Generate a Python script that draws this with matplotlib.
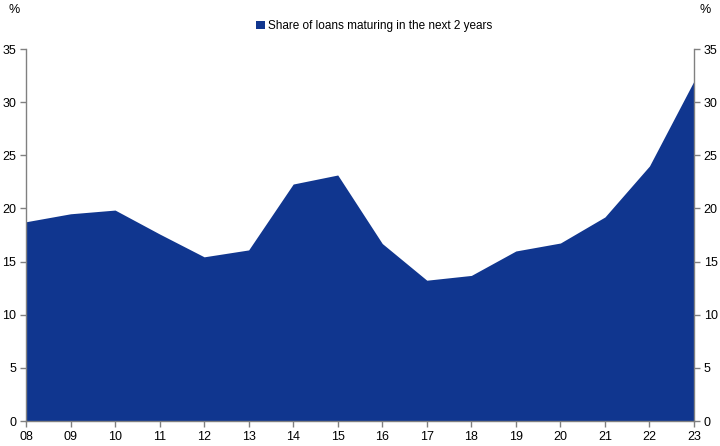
import matplotlib
matplotlib.use('Agg')
import matplotlib.pyplot as plt
from matplotlib.patches import Patch

plt.rcParams['font.family'] = ['Liberation Sans', 'DejaVu Sans']

years = ['08', '09', '10', '11', '12', '13', '14', '15',
         '16', '17', '18', '19', '20', '21', '22', '23']
share = [18.75, 19.5, 19.85, 17.6, 15.45, 16.1, 22.3, 23.15,
         16.7, 13.25, 13.7, 16.0, 16.75, 19.2, 24.0, 32.0]
label = 'Share of loans maturing in the next 2 years'
yticks = [0, 5, 10, 15, 20, 25, 30, 35]

blue = '#10368F'
grey = '#808080'

fig = plt.figure(figsize=(7.2, 4.46), dpi=100)
ax = fig.add_axes([0.0361, 0.056, 0.9278, 0.834])

x = list(range(len(years)))
ax.fill_between(x, share, 0, color=blue, lw=0)

ax.set_xlim(0, len(years) - 1)
ax.set_ylim(0, 35)
ax.set_xticks(x)
ax.set_xticklabels(years)
ax.set_yticks(yticks)

for s in ['top']:
    ax.spines[s].set_visible(False)
for s in ['left', 'right', 'bottom']:
    ax.spines[s].set_color(grey)
    ax.spines[s].set_linewidth(1)

ax.tick_params(axis='both', direction='out', length=4, width=1, color=grey,
               labelsize=9, labelcolor='black', pad=3)
ax.tick_params(axis='y', right=True, labelright=True)

fig.text(0.02, 0.977, '%', fontsize=9, ha='center', va='center')
fig.text(0.979, 0.977, '%', fontsize=9, ha='center', va='center')

handle = Patch(facecolor=blue, edgecolor='none')
fig.legend([handle], [label], loc='center', bbox_to_anchor=(0.52, 0.942),
           frameon=False, fontsize=8.5, handlelength=0.7, handleheight=0.7,
           handletextpad=0.3, borderpad=0)

fig.savefig('out.png', dpi=100)
